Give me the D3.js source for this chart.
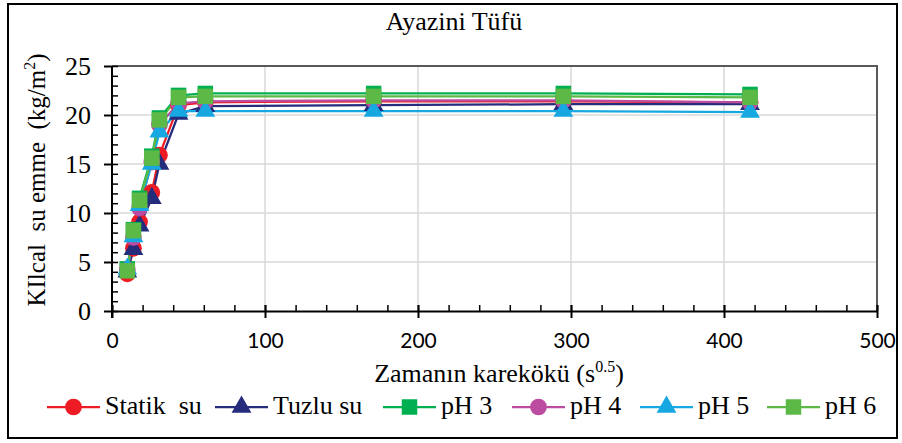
<!DOCTYPE html>
<html>
<head>
<meta charset="utf-8">
<script src="https://cdn.jsdelivr.net/npm/d3@7"></script>
</head>
<body style="margin:0;background:#fff">
<div class="chart"></div>
<script>
var svgWidth = 902;
var svgHeight = 443;

var SERIF = "Liberation Serif";
var SANS = "Lato";

// square root of time (s^0.5)
var xValues = [10, 14, 18, 26, 31, 43.5, 61, 171, 295, 417];

var seriesNames = ["Statik su", "Tuzlu su", "pH 3", "pH 4", "pH 5", "pH 6"];
var statikSu = [3.8, 6.4, 9.1, 12.1, 15.9, 21.0, 21.3, 21.4, 21.4, 21.3];
var tuzluSu  = [4.0, 6.3, 8.7, 11.5, 15.0, 20.1, 20.9, 21.0, 21.1, 21.1];
var pH3      = [4.3, 8.3, 11.5, 15.8, 19.7, 22.0, 22.2, 22.2, 22.2, 22.1];
var pH4      = [4.2, 7.5, 10.5, 15.2, 19.0, 21.2, 21.4, 21.5, 21.5, 21.3];
var pH5      = [4.3, 7.6, 10.8, 15.0, 18.3, 20.4, 20.4, 20.4, 20.4, 20.3];
var pH6      = [4.1, 8.2, 11.3, 15.6, 19.5, 21.8, 21.9, 21.9, 21.9, 21.8];

var xTicks = [0, 100, 200, 300, 400, 500];
var yTicks = [0, 5, 10, 15, 20, 25];

var colors = ["#ed1c24", "#252c7c", "#00b050", "#bb4c9f", "#17a8e1", "#5cb946"];
var shapes = [d3.symbolCircle, d3.symbolTriangle, d3.symbolSquare,
              d3.symbolCircle, d3.symbolTriangle, d3.symbolSquare];
var shapeSize = [220, 170, 240, 220, 170, 240];

var seriesValues = [statikSu, tuzluSu, pH3, pH4, pH5, pH6];

var svg = d3.select(".chart")
  .append("svg")
  .attr("width", svgWidth)
  .attr("height", svgHeight);

// outer border
svg.append("rect")
  .attr("x", 8).attr("y", 4)
  .attr("width", 889).attr("height", 434)
  .attr("fill", "none")
  .attr("stroke", "#000")
  .attr("stroke-width", 2);

var plot = { left: 112, right: 877, top: 66, bottom: 311 };

var x = d3.scaleLinear().domain([0, 500]).range([plot.left, plot.right]);
var y = d3.scaleLinear().domain([0, 25]).range([plot.bottom, plot.top]);

// grid lines
svg.append("g")
  .selectAll("line")
  .data(yTicks.slice(1, -1))
  .enter().append("line")
  .attr("x1", plot.left).attr("x2", plot.right)
  .attr("y1", d => y(d)).attr("y2", d => y(d))
  .attr("stroke", "#d9d9d9").attr("stroke-width", 1.5);

svg.append("g")
  .selectAll("line")
  .data(xTicks.slice(1, -1))
  .enter().append("line")
  .attr("y1", plot.top).attr("y2", plot.bottom)
  .attr("x1", d => x(d)).attr("x2", d => x(d))
  .attr("stroke", "#d9d9d9").attr("stroke-width", 1.5);

// top and right frame
svg.append("path")
  .attr("d", `M${plot.left},${plot.top}H${plot.right}V${plot.bottom}`)
  .attr("fill", "none")
  .attr("stroke", "#595959")
  .attr("stroke-width", 2);

//-------- axes --------------------------------
// minor ticks (inside)
var xMinor = svg.append("g")
  .attr("transform", `translate(0, ${plot.bottom})`)
  .call(d3.axisTop(x).ticks(25).tickSize(6).tickFormat(""));
xMinor.select(".domain").remove();
xMinor.selectAll("line").attr("stroke", "#000").attr("stroke-width", 1.5);

var yMinor = svg.append("g")
  .attr("transform", `translate(${plot.left}, 0)`)
  .call(d3.axisRight(y).ticks(25).tickSize(6).tickFormat(""));
yMinor.select(".domain").remove();
yMinor.selectAll("line").attr("stroke", "#000").attr("stroke-width", 1.5);

// major ticks
var xAxis = svg.append("g")
  .attr("transform", `translate(0, ${plot.bottom})`)
  .call(d3.axisBottom(x).tickValues(xTicks).tickSize(7).tickSizeOuter(0).tickPadding(15));
xAxis.selectAll("line").attr("stroke", "#000").attr("stroke-width", 2)
  .attr("y1", -6);
xAxis.select(".domain").attr("stroke", "#000").attr("stroke-width", 2);
xAxis.selectAll("text").style("font-family", SANS).style("font-size", "21px").attr("fill", "#000");

var yAxis = svg.append("g")
  .attr("transform", `translate(${plot.left}, 0)`)
  .call(d3.axisLeft(y).tickValues(yTicks).tickSize(8).tickSizeOuter(0).tickPadding(13));
yAxis.selectAll("line").attr("stroke", "#000").attr("stroke-width", 2);
yAxis.select(".domain").attr("stroke", "#000").attr("stroke-width", 2)
  .attr("d", `M0,${y(25)}V${plot.bottom + 7}`);
yAxis.selectAll("text").style("font-family", SERIF).style("font-size", "26px").attr("fill", "#000");

//-------- series ------------------------------
var line = d3.line()
  .x((d, i) => x(xValues[i]))
  .y(d => y(d));

seriesValues.forEach(function (vals, s) {
  svg.append("path")
    .datum(vals)
    .attr("d", line)
    .attr("fill", "none")
    .attr("stroke", colors[s])
    .attr("stroke-width", 2.25);
});

seriesValues.forEach(function (vals, s) {
  svg.append("g")
    .selectAll("path")
    .data(vals)
    .enter().append("path")
    .attr("d", d3.symbol().type(shapes[s]).size(shapeSize[s]))
    .attr("transform", (d, i) => `translate(${x(xValues[i])}, ${y(d)})`)
    .attr("fill", colors[s]);
});

//-------- titles ------------------------------
function serifText(sel, size) {
  return sel.style("font-family", SERIF).style("font-size", size + "px").attr("fill", "#000");
}

serifText(svg.append("text"), 26)
  .attr("x", 454).attr("y", 30)
  .attr("text-anchor", "middle")
  .text("Ayazini Tüfü");

var xTitle = serifText(svg.append("text"), 26)
  .attr("x", 499).attr("y", 382)
  .attr("text-anchor", "middle");
xTitle.append("tspan").text("Zamanın karekökü (s");
xTitle.append("tspan").attr("dy", -10).style("font-size", "16px").text("0.5");
xTitle.append("tspan").attr("dy", 10).text(")");

var yTitle = serifText(svg.append("text"), 25)
  .attr("transform", "translate(45, 180) rotate(-90)")
  .attr("text-anchor", "middle")
  .style("white-space", "pre");
yTitle.append("tspan").text("KIlcal  su emme  (kg/m");
yTitle.append("tspan").attr("dy", -10).style("font-size", "16px").text("2");
yTitle.append("tspan").attr("dy", 10).text(")");

//-------- legend ------------------------------
var legendX = [47, 215, 383, 512, 640, 767];
var legend = svg.append("g");
seriesNames.forEach(function (name, s) {
  var g = legend.append("g").attr("transform", `translate(${legendX[s]}, 407)`);
  g.append("line")
    .attr("x1", 0).attr("x2", 53)
    .attr("stroke", colors[s]).attr("stroke-width", 2.25);
  g.append("path")
    .attr("d", d3.symbol().type(shapes[s]).size(shapeSize[s]))
    .attr("transform", "translate(26.5, 0)")
    .attr("fill", colors[s]);
  serifText(g.append("text"), 26)
    .attr("x", 58).attr("y", 7)
    .style("white-space", "pre")
    .text(name === "Statik su" ? "Statik  su" : name);
});
</script>
</body>
</html>
